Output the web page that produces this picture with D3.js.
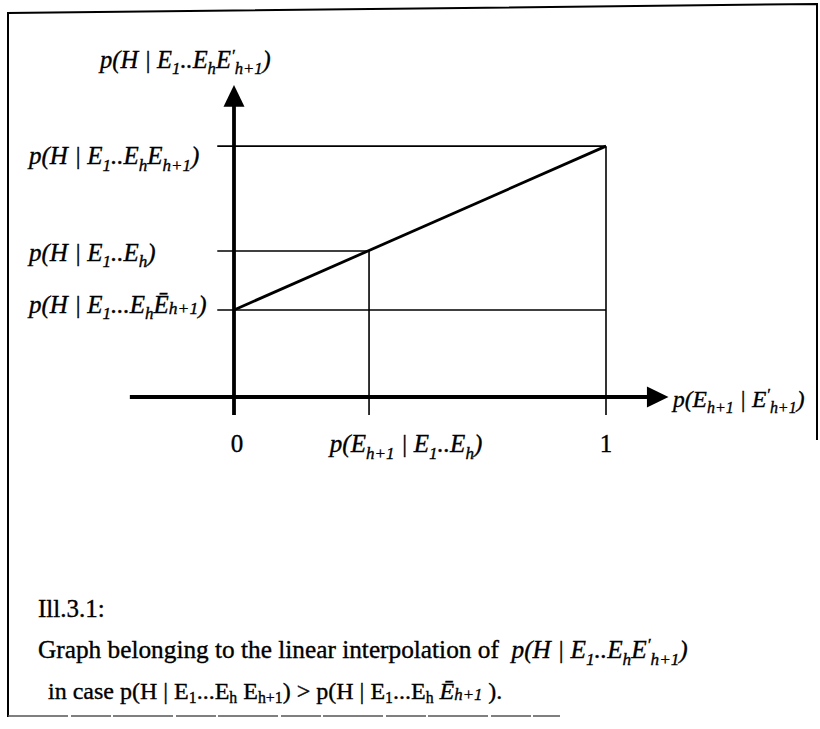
<!DOCTYPE html>
<html><head><meta charset="utf-8">
<script src="https://cdn.jsdelivr.net/npm/d3@7"></script>
<style>
body{margin:0;background:#fff}
svg{display:block}
text{font-family:"Liberation Serif","Times New Roman",serif;fill:#000;stroke:#000;stroke-width:0.35;white-space:pre}
</style>
</head><body>
<svg id="chart" width="820" height="729"></svg>
<script>
// Horizontal positions (probability of E_{h+1} given the new evidence)
const xTicks = [0, 0.363, 1];
// Vertical levels: p(H|E1..Eh notE_{h+1}), p(H|E1..Eh), p(H|E1..Eh E_{h+1})
const yLevels = [0.279, 0.468, 0.804];
// Where each horizontal guide ends (x value)
const yLevelEnds = [1, 0.363, 1];
// Where each vertical guide starts (index into yLevels)
const xGuideFrom = [null, 1, 2];

// Label fragments: [text, kind]
const yLabels = [
  [["p(H | E","i"],["1","sb"],["...E","i"],["h","sb"],["Ē","i"],["h+1","sm"],[")","i"]],
  [["p(H | E","i"],["1","sb"],["..E","i"],["h","sb"],[")","i"]],
  [["p(H | E","i"],["1","sb"],["..E","i"],["h","sb"],["E","i"],["h+1","sb"],[")","i"]]
];
const xTickLabels = [
  [["0","r"]],
  [["p(E","i"],["h+1","sb"],[" | E","i"],["1","sb"],["..E","i"],["h","sb"],[")","i"]],
  [["1","r"]]
];
const yAxisTitle = [["p(H | E","i"],["1","sb"],["..E","i"],["h","sb"],["E","i"],["′","sp"],["h+1","sb"],[")","i"]];
const xAxisTitle = [["p(E","i"],["h+1","sb"],[" | E","i"],["′","sp"],["h+1","sb"],[")","i"]];
const captionLines = [
  [["Ill.3.1:","r"]],
  [["Graph belonging to the linear interpolation of  ","r"],["p(H | E","i"],["1","sb"],["..E","i"],["h","sb"],["E","i"],["′","sp"],["h+1","sb"],[")","i"]],
  [["in case p(H | E","r"],["1","sbr"],["...E","r"],["h","sbr"],[" E","r"],["h+1","sbr"],[") > p(H | E","r"],["1","sbr"],["...E","r"],["h","sbr"],[" ","r"],["Ē","i"],["h+1","sm"],[" ).","r"]]
];

const svg = d3.select("#chart");
const x = d3.scaleLinear().domain([0, 1]).range([234, 606]);
const y = d3.scaleLinear().domain([0, 1]).range([397, 85]);

function mathText(parent, px, py, parts, size, anchor) {
  const t = parent.append("text").attr("x", px).attr("y", py)
    .attr("font-size", size).attr("text-anchor", anchor || "start");
  let shift = 0;
  parts.forEach(([s, k]) => {
    let target = 0, fs = size, style = "italic";
    if (k === "r") style = "normal";
    if (k === "sb") { target = size * 0.26; fs = size * 0.68; }
    if (k === "sbr") { target = size * 0.18; fs = size * 0.66; style = "normal"; }
    if (k === "sm") { target = size * 0.04; fs = size * 0.7; }
    if (k === "sp") { target = -size * 0.3; fs = size * 0.7; }
    t.append("tspan").text(s)
      .attr("dy", target - shift).attr("font-size", fs).attr("font-style", style);
    shift = target;
  });
  return t;
}

// Frame
const frame = svg.append("g").attr("fill", "none").attr("stroke", "#000");
frame.append("path").attr("d", "M8,717 L8,13 L817,4 L817,440").attr("stroke-width", 2);
frame.append("line").attr("x1", 8).attr("x2", 560).attr("y1", 716).attr("y2", 716)
  .attr("stroke", "#555").attr("stroke-width", 1.6).attr("stroke-dasharray", "60,3,40,2");

const g = svg.append("g");

// Horizontal guides
g.selectAll("line.hguide").data(yLevels).join("line").attr("class", "hguide")
  .attr("x1", x(-0.045)).attr("x2", (d, i) => x(yLevelEnds[i]))
  .attr("y1", d => y(d)).attr("y2", d => y(d))
  .attr("stroke", "#000").attr("stroke-width", 1.6);

// Vertical guides
g.selectAll("line.vguide").data(xTicks.filter((d, i) => xGuideFrom[i] !== null)).join("line")
  .attr("class", "vguide")
  .attr("x1", d => x(d)).attr("x2", d => x(d))
  .attr("y1", d => y(yLevels[xGuideFrom[xTicks.indexOf(d)]])).attr("y2", y(-0.058))
  .attr("stroke", "#000").attr("stroke-width", 1.6);

// Interpolation line
g.append("path").datum([[0, yLevels[0]], [1, yLevels[2]]])
  .attr("d", d3.line().x(d => x(d[0])).y(d => y(d[1])))
  .attr("stroke", "#000").attr("stroke-width", 2.8).attr("fill", "none");

// Axes
g.append("line").attr("x1", x(0)).attr("x2", x(0)).attr("y1", y(-0.058)).attr("y2", y(0.935))
  .attr("stroke", "#000").attr("stroke-width", 3.8);
g.append("path").attr("d", `M${x(0)},${y(1)} L${x(0) - 10.5},${y(0.93)} L${x(0) + 10.5},${y(0.93)} Z`).attr("fill", "#000");
g.append("line").attr("x1", x(-0.28)).attr("x2", x(1.115)).attr("y1", y(0)).attr("y2", y(0))
  .attr("stroke", "#000").attr("stroke-width", 3.8);
g.append("path").attr("d", `M${x(1.168)},${y(0)} L${x(1.11)},${y(0) - 10.5} L${x(1.11)},${y(0) + 10.5} Z`).attr("fill", "#000");

// Labels
const fs = 25;
const yLabelDy = [3, 10, 18];
yLevels.forEach((v, i) => mathText(g, 29, y(v) + yLabelDy[i], yLabels[i], fs));
const xLabelDx = [3, 37, 0];
xTicks.forEach((v, i) => mathText(g, x(v) + xLabelDx[i], 452, xTickLabels[i], fs, "middle"));
mathText(g, 100, 68, yAxisTitle, 24.5);
mathText(g, 673, y(0) + 10, xAxisTitle, 23.5);

// Caption
const capX = [38, 38, 48];
const capSize = [25, 25.3, 24];
captionLines.forEach((line, i) => mathText(g, capX[i], 617 + i * 41, line, capSize[i]));
</script>
</body></html>
